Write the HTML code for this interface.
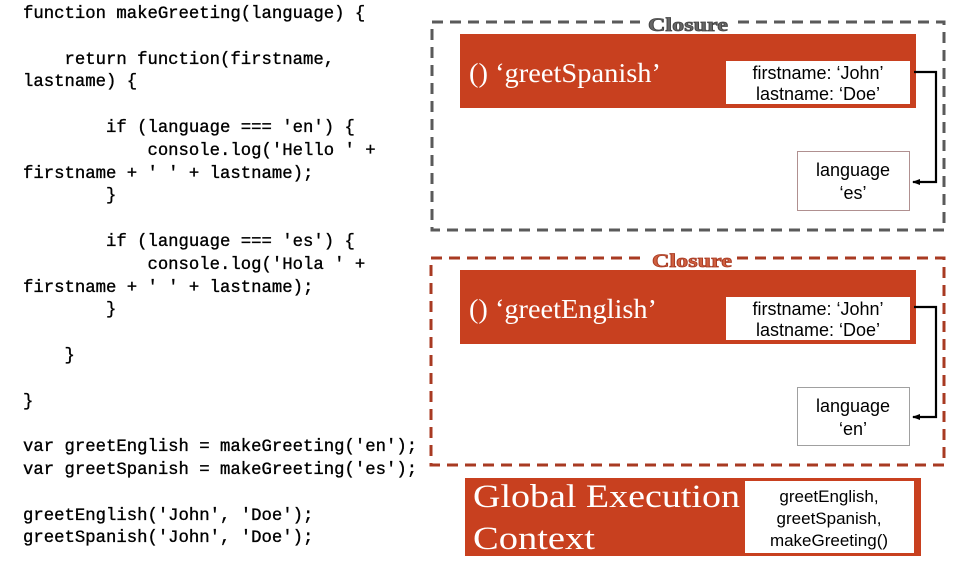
<!DOCTYPE html>
<html><head><meta charset="utf-8"><style>
html,body{margin:0;padding:0;background:#fff;width:954px;height:566px;overflow:hidden}
pre{position:absolute;left:23px;top:4px;margin:0;font-family:"Liberation Mono",monospace;font-size:17.3px;line-height:22.8px;color:#000;-webkit-text-stroke:0.35px #000}
svg{position:absolute;left:0;top:0}
</style></head><body>
<pre>function makeGreeting(language) {

    return function(firstname,
lastname) {

        if (language === 'en') {
            console.log('Hello ' +
firstname + ' ' + lastname);
        }

        if (language === 'es') {
            console.log('Hola ' +
firstname + ' ' + lastname);
        }

    }

}

var greetEnglish = makeGreeting('en');
var greetSpanish = makeGreeting('es');

greetEnglish('John', 'Doe');
greetSpanish('John', 'Doe');</pre>
<svg width="954" height="566" font-family="Liberation Serif, serif">
<defs><marker id="a" markerWidth="8" markerHeight="8" refX="7" refY="4" orient="auto" markerUnits="userSpaceOnUse"><path d="M0,1 L8,4 L0,7z" fill="#000"/></marker></defs>
<!-- box 1 -->
<rect x="432" y="22" width="512" height="208" fill="none" stroke="#5a5a5a" stroke-width="3" stroke-dasharray="11,7"/>
<rect x="640" y="14" width="96" height="18" fill="#fff"/>
<text x="688" y="31" text-anchor="middle" font-size="19" font-weight="bold" fill="#666" stroke="#444" stroke-width="0.8" textLength="80" lengthAdjust="spacingAndGlyphs">Closure</text>
<rect x="460" y="34" width="456" height="74" fill="#c8401f"/>
<text x="469" y="82" font-size="27" fill="#fff" textLength="192" lengthAdjust="spacingAndGlyphs">() ‘greetSpanish’</text>
<rect x="726" y="61" width="184" height="43" fill="#fff"/>
<text x="818" y="79" text-anchor="middle" font-size="18" font-family="Liberation Sans, sans-serif">firstname: ‘John’</text>
<text x="818" y="100" text-anchor="middle" font-size="18" font-family="Liberation Sans, sans-serif">lastname: ‘Doe’</text>
<rect x="797.5" y="151.5" width="112" height="59" fill="#fff" stroke="#b09090"/>
<text x="853" y="176" text-anchor="middle" font-size="18" font-family="Liberation Sans, sans-serif">language</text>
<text x="853" y="199" text-anchor="middle" font-size="18" font-family="Liberation Sans, sans-serif">‘es’</text>
<path d="M914,72 H936 V182 H913" fill="none" stroke="#000" stroke-width="2.2" marker-end="url(#a)"/>
<!-- box 2 -->
<rect x="431" y="258" width="513" height="207" fill="none" stroke="#a83a22" stroke-width="3" stroke-dasharray="11,7"/>
<rect x="645" y="250" width="92" height="18" fill="#fff"/>
<text x="692" y="267" text-anchor="middle" font-size="19" font-weight="bold" fill="#d06040" stroke="#a83a22" stroke-width="0.8" textLength="80" lengthAdjust="spacingAndGlyphs">Closure</text>
<rect x="460" y="270" width="456" height="74" fill="#c8401f"/>
<text x="469" y="318" font-size="27" fill="#fff" textLength="188" lengthAdjust="spacingAndGlyphs">() ‘greetEnglish’</text>
<rect x="726" y="297" width="184" height="43" fill="#fff"/>
<text x="818" y="315" text-anchor="middle" font-size="18" font-family="Liberation Sans, sans-serif">firstname: ‘John’</text>
<text x="818" y="336" text-anchor="middle" font-size="18" font-family="Liberation Sans, sans-serif">lastname: ‘Doe’</text>
<rect x="797.5" y="387.5" width="112" height="58" fill="#fff" stroke="#a0a0a0"/>
<text x="853" y="412" text-anchor="middle" font-size="18" font-family="Liberation Sans, sans-serif">language</text>
<text x="853" y="435" text-anchor="middle" font-size="18" font-family="Liberation Sans, sans-serif">‘en’</text>
<path d="M914,307 H936 V417 H913" fill="none" stroke="#000" stroke-width="2.2" marker-end="url(#a)"/>
<!-- global -->
<rect x="465" y="478" width="456" height="78" fill="#c8401f"/>
<text x="473" y="507" font-size="33" fill="#fff" textLength="267" lengthAdjust="spacingAndGlyphs">Global Execution</text>
<text x="473" y="549" font-size="33" fill="#fff" textLength="122" lengthAdjust="spacingAndGlyphs">Context</text>
<rect x="745" y="481" width="169" height="72" fill="#fff"/>
<text x="829" y="502" text-anchor="middle" font-size="17" font-family="Liberation Sans, sans-serif">greetEnglish,</text>
<text x="829" y="524" text-anchor="middle" font-size="17" font-family="Liberation Sans, sans-serif">greetSpanish,</text>
<text x="829" y="546" text-anchor="middle" font-size="17" font-family="Liberation Sans, sans-serif">makeGreeting()</text>
</svg>
</body></html>
